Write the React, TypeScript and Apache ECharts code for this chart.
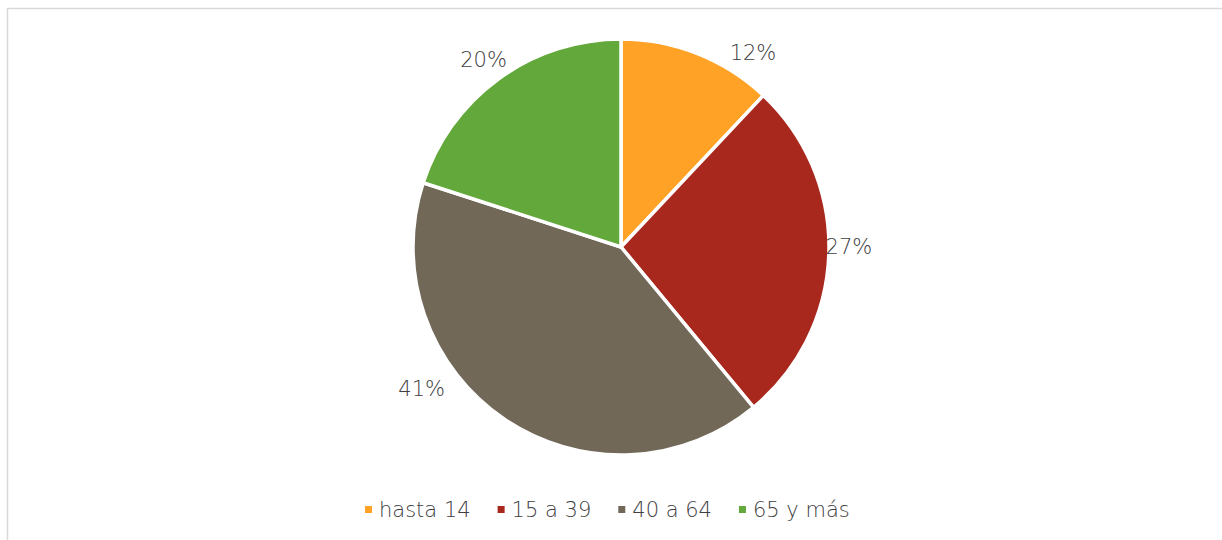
import React, { useEffect, useRef } from "react";
import * as echarts from "echarts";

const categories = ["hasta 14", "15 a 39", "40 a 64", "65 y más"];
const values = [12, 27, 41, 20];
const colors = ["#FFA226", "#A8281E", "#716858", "#63A83B"];
const labelOffsets = [
  [44, 28],
  [-11, -8],
  [-65, -56],
  [3, 6],
];

export default function App() {
  const ref = useRef<HTMLDivElement>(null);
  useEffect(() => {
    if (!ref.current) return;
    const chart = echarts.init(ref.current, undefined, { renderer: "svg" });
    const data = categories.map((name, i) => ({
      name,
      value: values[i],
      itemStyle: { color: colors[i] },
    }));
    const font = "DejaVu Sans";
    const textColor = "#404040";
    chart.setOption({
      animation: false,
      backgroundColor: "#ffffff",
      graphic: [
        {
          type: "rect",
          shape: { x: 7.5, y: 8.5, width: 1300, height: 700 },
          style: { fill: "none", stroke: "#d9d9d9", lineWidth: 1.5 },
          silent: true,
          z: -10,
        },
      ],
      legend: {
        data: categories,
        left: 358,
        top: 494,
        itemWidth: 9,
        itemHeight: 9,
        itemGap: 25,
        icon: "rect",
        textStyle: {
          fontFamily: font,
          fontSize: 21,
          fontWeight: 300,
          color: textColor,
          padding: [0, 0, 0, 1],
        },
      },
      series: [
        {
          type: "pie",
          center: [621, 247],
          radius: [0, 208],
          startAngle: 90,
          clockwise: true,
          data,
          label: { show: false },
          labelLine: { show: false },
          itemStyle: { borderColor: "#ffffff", borderWidth: 3.5 },
          emphasis: { disabled: true },
        },
        {
          type: "pie",
          center: [621, 247],
          radius: [222, 250],
          startAngle: 90,
          clockwise: true,
          silent: true,
          data: categories.map((name, i) => ({
            name,
            value: values[i],
            itemStyle: { color: "rgba(0,0,0,0)" },
            label: { offset: labelOffsets[i] },
          })),
          label: {
            show: true,
            position: "inside",
            formatter: "{c}%",
            fontFamily: font,
            fontSize: 21,
            fontWeight: 300,
            color: textColor,
          },
          labelLine: { show: false },
          emphasis: { disabled: true },
        },
      ],
    });
    return () => chart.dispose();
  }, []);
  return (
    <div
      ref={ref}
      style={{ position: "fixed", left: 0, top: 0, width: 1222, height: 540 }}
    />
  );
}
